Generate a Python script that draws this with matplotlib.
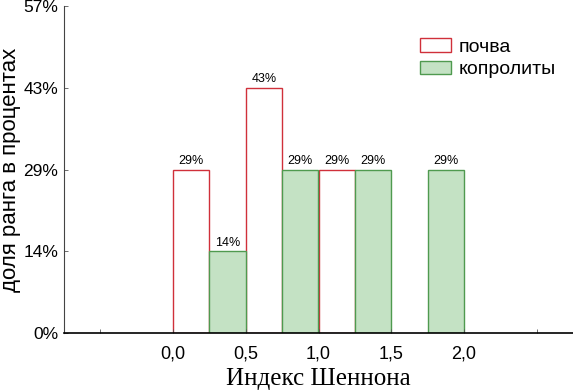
import matplotlib.pyplot as plt
import numpy as np

# доли рангов (из 7) по интервалам индекса Шеннона
bins_soil = [0.0, 0.5, 1.0]
share_soil = [2/7, 3/7, 2/7]
bins_copro = [0.25, 0.75, 1.25, 1.75]
share_copro = [1/7, 2/7, 2/7, 2/7]
labels_soil = ['29%', '43%', '29%']
labels_copro = ['14%', '29%', '29%', '29%']

yticks = [0, 1/7, 2/7, 3/7, 4/7]
ytick_labels = ['0%', '14%', '29%', '43%', '57%']
xticks = [-0.5, 0.0, 0.5, 1.0, 1.5, 2.0, 2.5]
xtick_labels = ['', '0,0', '0,5', '1,0', '1,5', '2,0', '']

plt.rcParams['font.family'] = ['Liberation Sans', 'DejaVu Sans']

fig = plt.figure(figsize=(5.73, 3.91), dpi=100)
ax = fig.add_axes([64/573, 1 - 333/391, 1 - 64/573, (333 - 6)/391])

red = '#d0303a'
green_fill = '#c4e2c4'
green_edge = '#4f9a4f'

ax.bar(bins_soil, share_soil, width=0.25, align='edge',
       color='white', edgecolor=red, linewidth=1.0, label='почва')
ax.bar(bins_copro, share_copro, width=0.25, align='edge',
       color=green_fill, edgecolor=green_edge, linewidth=1.0, label='копролиты')

for x, y, s in zip(bins_soil, share_soil, labels_soil):
    ax.text(x + 0.125, y + 0.004, s, ha='center', va='bottom', fontsize=9)
for x, y, s in zip(bins_copro, share_copro, labels_copro):
    ax.text(x + 0.125, y + 0.004, s, ha='center', va='bottom', fontsize=9)

ax.set_xlim(-0.75, 2.75)
ax.set_ylim(0, 4/7)
ax.set_yticks(yticks)
ax.set_yticklabels(ytick_labels, fontsize=12.5)
ax.set_xticks(xticks)
ax.set_xticklabels(xtick_labels, fontsize=13)
ax.tick_params(axis='both', direction='in', length=3, width=0.6, colors='#555555',
               labelcolor='black')
ax.tick_params(axis='x', pad=9)
ax.tick_params(axis='y', pad=4)

ax.spines['top'].set_visible(False)
ax.spines['right'].set_visible(False)
ax.spines['left'].set_color('#444444')
ax.spines['bottom'].set_color('black')
ax.spines['bottom'].set_linewidth(1.2)

ax.set_ylabel('доля ранга в процентах', fontsize=16, labelpad=2)
ax.set_xlabel('Индекс Шеннона', fontsize=18,
              family=['Liberation Serif', 'DejaVu Serif'], labelpad=4)

ax.legend(loc='upper left', bbox_to_anchor=(0.685, 0.925), frameon=False,
          fontsize=14, handlelength=1.55, handleheight=0.68,
          handletextpad=0.4, labelspacing=0.25, borderaxespad=0)

fig.savefig('out.png', dpi=100)
